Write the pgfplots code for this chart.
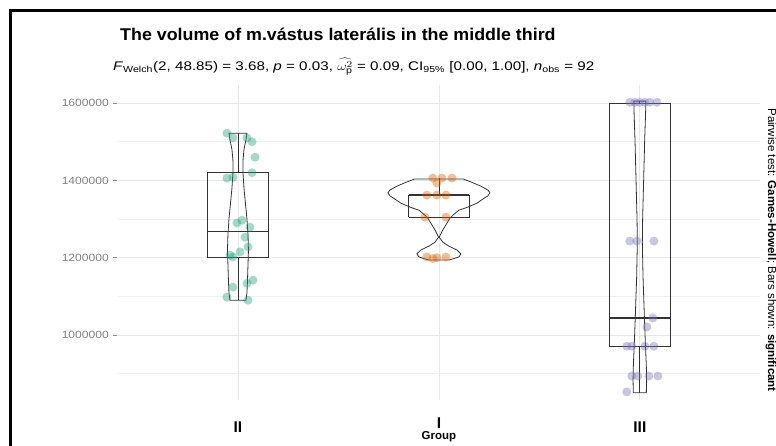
\documentclass[border=0pt]{standalone}
\usepackage{pgfplots}
\pgfplotsset{compat=1.18}
\usepackage{fontspec}
\setmainfont{Liberation Sans}
\definecolor{cII}{HTML}{1B9E77}
\definecolor{cI}{HTML}{D95F02}
\definecolor{cIII}{HTML}{7570B3}
\definecolor{boxc}{HTML}{333333}
\begin{document}
\begin{tikzpicture}
\path[use as bounding box] (0pt,0pt) rectangle (776pt,446pt);
\begin{axis}[
  at={(117.4pt,46pt)}, anchor=south west,
  scale only axis, width=643pt, height=314.7pt,
  xmin=0.4, xmax=3.6, ymin=832000, ymax=1646000,
  clip=false,
  axis x line*=bottom, axis y line*=left,
  axis line style={draw=none},
  xtick={1,2,3}, xticklabels={II,\raisebox{3.5pt}{I},III},
  major x tick style={draw=none},
  ytick={1000000,1200000,1400000,1600000},
  minor ytick={900000,1100000,1300000,1500000},
  ytick pos=left, tick align=outside,
  major tick length=4pt,
  y tick style={black!45, line width=0.6pt},
  minor y tick style={draw=none},
  xmajorgrids, ymajorgrids, yminorgrids,
  major grid style={black!9, line width=0.7pt},
  minor grid style={black!6, line width=0.6pt},
  scaled y ticks=false,
  /pgf/number format/fixed,
  /pgf/number format/1000 sep={},
  /pgf/number format/assume math mode=true,
  yticklabel style={font=\fontsize{10.5}{11}\selectfont, text=black!50, xscale=1.15, xshift=-0.5pt},
  xticklabel style={font=\bfseries\fontsize{15.5}{16}\selectfont, anchor=base, yshift=-28.5pt, inner sep=0pt},
  xlabel={Group},
  xlabel style={at={(axis description cs:0.5,0)}, anchor=base, yshift=-40pt, inner sep=0pt, font=\bfseries\fontsize{11.5}{12}\selectfont},
]
% points
\addplot[only marks, mark=*, mark size=4.5pt, color=cII, mark options={fill=cII, fill opacity=0.4, draw opacity=0}] coordinates {
(0.945,1522000) (0.975,1510000) (1.07,1500000) (1.045,1510000) (1.085,1460000)
(0.975,1408000) (0.945,1406000) (1.07,1420000) (1.02,1297000) (0.995,1290000)
(1.06,1279000) (1.035,1253000) (1.05,1228000) (0.96,1207000) (0.975,1202000)
(1.01,1215000) (1.075,1142000) (1.045,1134000) (0.975,1124000) (0.945,1098000)
(1.05,1090000)
};
\addplot[only marks, mark=*, mark size=4.5pt, color=cI, mark options={fill=cI, fill opacity=0.4, draw opacity=0}] coordinates {
(1.970,1406000) (2.015,1406000) (2.065,1406000) (1.990,1393000)
(1.940,1362000) (1.990,1362000) (2.035,1362000)
(1.930,1305000) (2.035,1305000)
(1.940,1202000) (1.990,1200000) (2.035,1202000) (1.970,1198000)
};
\addplot[only marks, mark=*, mark size=4.5pt, color=cIII, mark options={fill=cIII, fill opacity=0.4, draw opacity=0}] coordinates {
(2.95,1602000) (2.975,1602000) (3.0,1602000) (3.025,1602000) (3.05,1602000) (3.085,1602000)
(2.95,1243000) (2.985,1243000) (3.07,1243000)
(3.065,1044000) (3.035,1021000)
(2.935,971000) (2.96,971000) (3.025,971000) (3.07,971000)
(2.96,894000) (2.99,894000) (3.045,894000) (3.09,894000)
(2.935,853000)
};
% boxes
\addplot[boxc, line width=0.8pt] coordinates {(0.85,1200000) (1.15,1200000) (1.15,1420000) (0.85,1420000) (0.85,1200000)};
\addplot[boxc, line width=1.3pt] coordinates {(0.85,1267000) (1.15,1267000)};
\addplot[boxc, line width=0.8pt] coordinates {(1,1420000) (1,1522000)};
\addplot[boxc, line width=0.8pt] coordinates {(1,1200000) (1,1090000)};
\addplot[boxc, line width=0.8pt] coordinates {(1.85,1305000) (2.15,1305000) (2.15,1362000) (1.85,1362000) (1.85,1305000)};
\addplot[boxc, line width=1.3pt] coordinates {(1.85,1362000) (2.15,1362000)};
\addplot[boxc, line width=0.8pt] coordinates {(2,1362000) (2,1406000)};
\addplot[boxc, line width=0.8pt] coordinates {(2.85,970000) (3.15,970000) (3.15,1600000) (2.85,1600000) (2.85,970000)};
\addplot[boxc, line width=1.3pt] coordinates {(2.85,1044000) (3.15,1044000)};
\addplot[boxc, line width=0.8pt] coordinates {(3,1600000) (3,1605000)};
\addplot[boxc, line width=0.8pt] coordinates {(3,970000) (3,851000)};
% violins
\addplot[boxc, line width=0.8pt] coordinates {
(1.0448,1522000) (1.0398,1505000) (1.0299,1480000) (1.0249,1450000) (1.0249,1420000)
(1.0299,1380000) (1.0373,1340000) (1.0448,1300000) (1.0498,1260000) (1.0522,1220000)
(1.0498,1180000) (1.0473,1140000) (1.0448,1110000) (1.0398,1090000)
(0.9602,1090000) (0.9552,1110000) (0.9527,1140000) (0.9502,1180000) (0.9478,1220000)
(0.9502,1260000) (0.9552,1300000) (0.9627,1340000) (0.9701,1380000) (0.9751,1420000)
(0.9751,1450000) (0.9701,1480000) (0.9602,1505000) (0.9552,1522000) (1.0448,1522000)
};
\addplot[boxc, line width=0.8pt] coordinates {
(2.1219,1403400) (2.1642,1395000) (2.2090,1385000) (2.2438,1375000) (2.2537,1368000)
(2.2438,1360000) (2.2139,1350000) (2.1891,1341000) (2.1393,1330000) (2.0995,1323000)
(2.0697,1310000) (2.0547,1302000) (2.0348,1285000) (2.0174,1270000) (2.0015,1253000)
(2.0199,1240000) (2.0498,1230000) (2.0896,1220000) (2.1095,1210000) (2.0995,1202000)
(2.0697,1197000) (2.0498,1194000)
(1.9502,1194000) (1.9303,1197000) (1.9005,1202000) (1.8905,1210000) (1.9104,1220000)
(1.9502,1230000) (1.9801,1240000) (1.9985,1253000) (1.9826,1270000) (1.9652,1285000)
(1.9453,1302000) (1.9303,1310000) (1.9005,1323000) (1.8607,1330000) (1.8109,1341000)
(1.7861,1350000) (1.7562,1360000) (1.7463,1368000) (1.7562,1375000) (1.7910,1385000)
(1.8358,1395000) (1.8781,1403400) (2.1219,1403400)
};
\addplot[boxc, line width=0.8pt] coordinates {
(3.0299,1605000) (3.0289,1580000) (3.0239,1500000) (3.0189,1400000) (3.0139,1300000)
(3.0124,1240000) (3.0159,1150000) (3.0224,1050000) (3.0274,980000) (3.0323,920000)
(3.0338,880000) (3.0323,851000)
(2.9677,851000) (2.9662,880000) (2.9677,920000) (2.9726,980000) (2.9776,1050000)
(2.9841,1150000) (2.9876,1240000) (2.9861,1300000) (2.9811,1400000) (2.9761,1500000)
(2.9711,1580000) (2.9701,1605000) (3.0299,1605000)
};
\end{axis}
\node[anchor=base west, font=\bfseries\fontsize{17}{18}\selectfont, inner sep=0pt, xscale=1.05] at (120pt,405pt) {The volume of m.vástus laterális in the middle third};
\node[anchor=base west, font=\fontsize{12.5}{14}\selectfont, inner sep=0pt, xscale=1.215] at (113pt,375.5pt) {\textit{F}\textsubscript{Welch}(2, 48.85) = 3.68, \textit{p} = 0.03, $\widehat{\omega^{2}_{\mathrm{p}}}$ = 0.09, CI\textsubscript{95\%} [0.00, 1.00], \textit{n}\textsubscript{obs} = 92};
\node[rotate=-90, anchor=center, font=\fontsize{11.5}{12}\selectfont, inner sep=0pt] at (771pt,196pt) {Pairwise test: \textbf{Games-Howell}; Bars shown: \textbf{significant}};
\draw[line width=3pt] (10pt,0pt) -- (10pt,435pt) -- (776pt,435pt);
\end{tikzpicture}
\end{document}
